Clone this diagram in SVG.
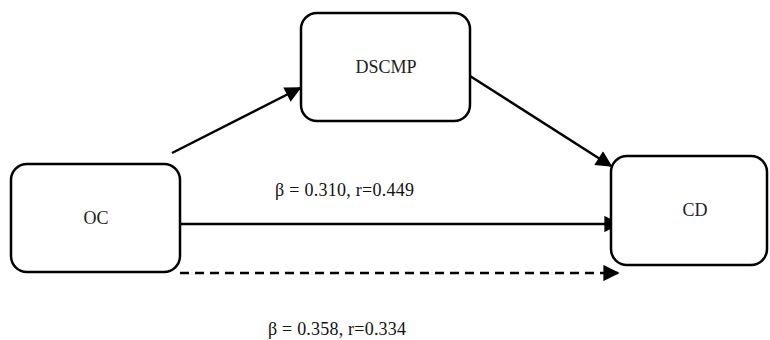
<svg xmlns="http://www.w3.org/2000/svg" width="770" height="340" viewBox="0 0 770 340">
<style>
.box{fill:#fff;stroke:#000;stroke-width:2.5}
.lbl{font-family:"Liberation Serif","Times New Roman",serif;font-size:18px;fill:#222;text-anchor:middle}
.stat{font-family:"Liberation Serif","Times New Roman",serif;font-size:18px;fill:#111}
.edge{stroke:#000;stroke-width:2.5;fill:none;marker-end:url(#ah)}
.dash{stroke-dasharray:9,6}
</style>
<defs>
<marker id="ah" viewBox="0 0 10 10" refX="9" refY="5" markerWidth="7" markerHeight="6.5" orient="auto" markerUnits="strokeWidth">
<path d="M0,0 L10,5 L0,10 z" fill="#000"/>
</marker>
</defs>
<rect width="770" height="340" fill="#fff"/>
<g id="connectors">
<line class="edge" x1="172" y1="153" x2="300" y2="88"/>
<line class="edge" x1="470" y1="76" x2="611" y2="166"/>
<line class="edge" x1="180" y1="224" x2="619" y2="224"/>
<line class="edge dash" x1="180" y1="273" x2="618" y2="273"/>
</g>
<g id="node-OC">
<rect class="box" x="11" y="164" width="169" height="108" rx="16"/>
<text class="lbl" x="96" y="224">OC</text>
</g>
<g id="node-DSCMP">
<rect class="box" x="301" y="13" width="169" height="108" rx="16"/>
<text class="lbl" x="386" y="73">DSCMP</text>
</g>
<g id="node-CD">
<rect class="box" x="611" y="156" width="156" height="109" rx="16"/>
<text class="lbl" x="695" y="216">CD</text>
</g>
<text class="stat" x="275" y="196" textLength="139">β = 0.310, r=0.449</text>
<text class="stat" x="268" y="335" textLength="138">β = 0.358, r=0.334</text>
</svg>
